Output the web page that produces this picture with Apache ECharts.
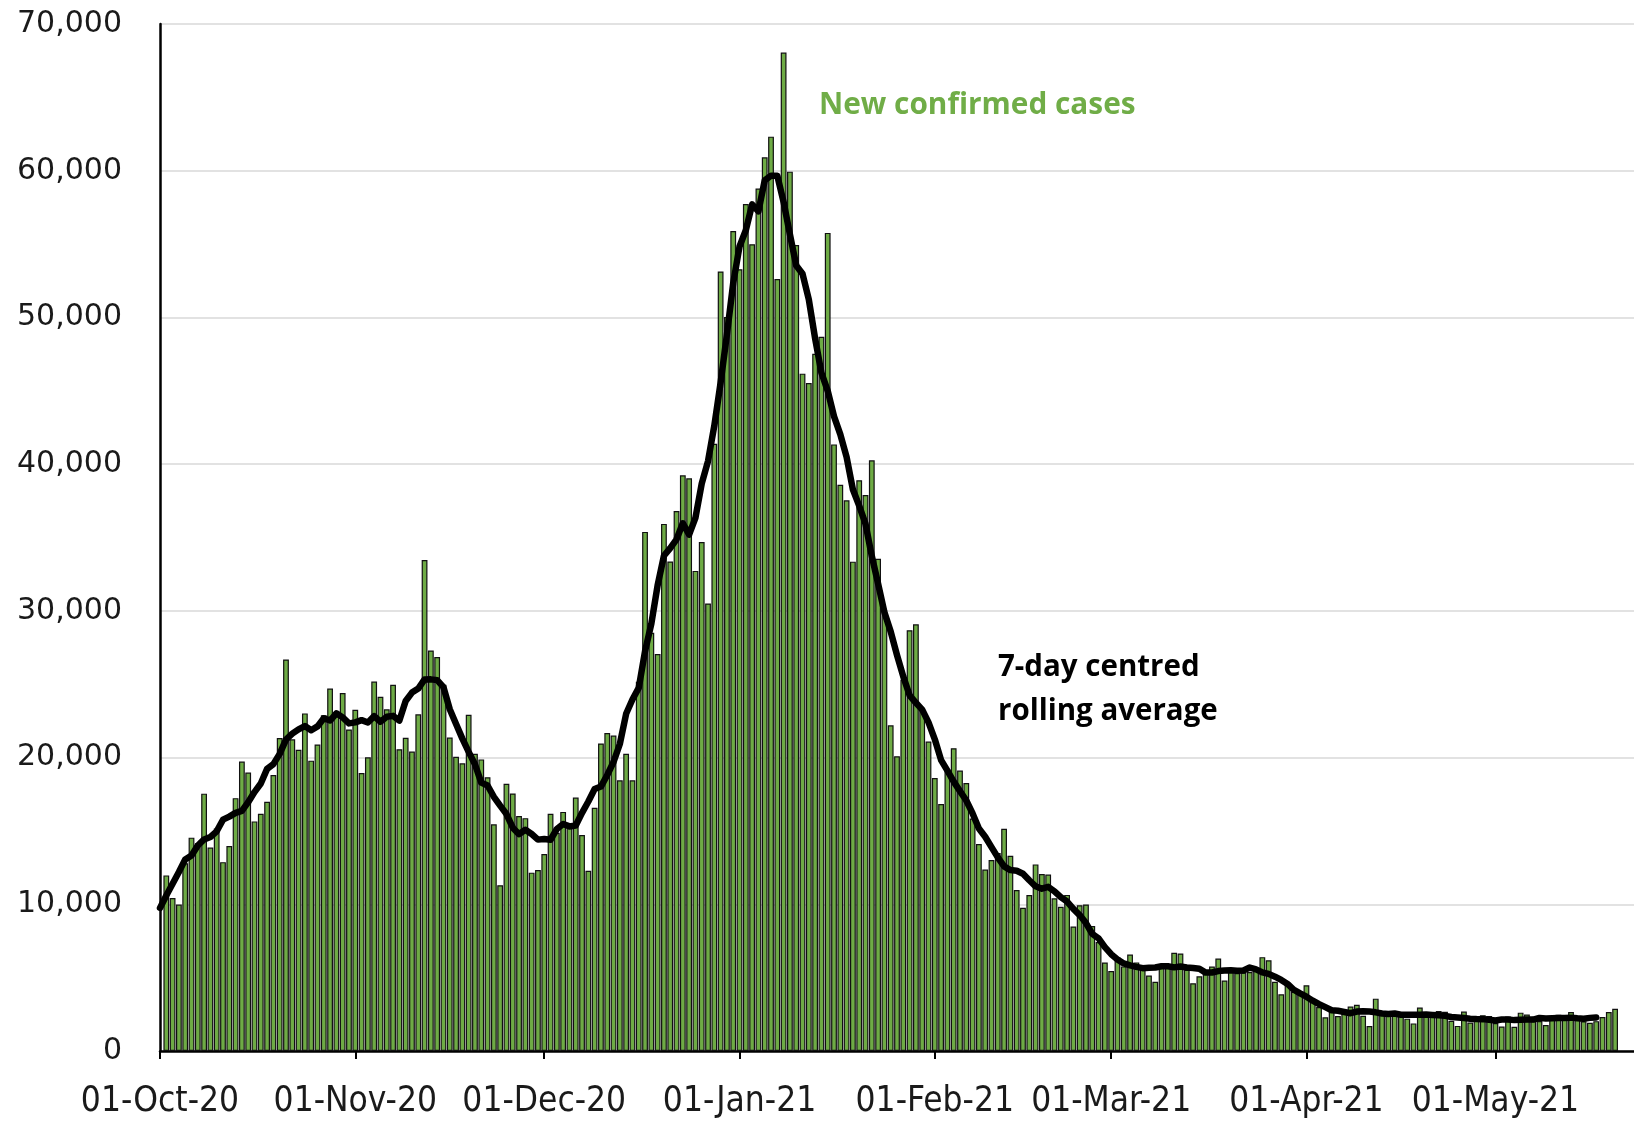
<!DOCTYPE html>
<html>
<head>
<meta charset="utf-8">
<title>New confirmed cases</title>
<script src="https://cdn.jsdelivr.net/npm/echarts@6/dist/echarts.min.js"></script>
<style>
  html, body { margin: 0; padding: 0; background: #fff; }
  #chart { width: 1634px; height: 1121px; }
</style>
</head>
<body>
<div id="chart"></div>
<script>
// axis starts at 01-Oct-20, bars start the day after
const axisStartDate = '2020-10-01'
const firstBarDate = '2020-10-02'
const axisDays = 234

// new confirmed cases per day
const cases = [
  11970, 10430, 9980, 12800, 14542, 14162, 17540, 13864, 15166, 12872,
  13972, 17234, 19724, 18980, 15650, 16171, 16982, 18804, 21331, 26688,
  21242, 20530, 23012, 19790, 20890, 22885, 24701, 23065, 24405, 21915,
  23254, 18950, 20018, 25177, 24141, 23287, 24957, 20572, 21350, 20412,
  22950, 33470, 27301, 26860, 24962, 21363, 20051, 19609, 22915, 20252,
  19875, 18662, 15450, 11299, 18213, 17555, 16022, 15871, 12155, 12330,
  13430, 16170, 14879, 16298, 15539, 17272, 14718, 12282, 16578, 20964,
  21672, 21502, 18447, 20263, 18450, 25161, 35383, 28507, 27052, 35928,
  33364, 36804, 39237, 39036, 32725, 34693, 30501, 41385, 53135, 50023,
  55892, 53285, 57725, 54990, 58784, 60916, 62322, 52618, 68053, 59937,
  54940, 46169, 45533, 47525, 48682, 55761, 41346, 38598, 37535, 33355,
  38905, 37892, 40261, 33552, 30004, 22195, 20089, 25308, 28680, 29079,
  23275, 21088, 18607, 16840, 19202, 20634, 19114, 18262, 15845, 14104,
  12364, 13013, 13494, 15144, 13308, 10972, 9765, 10625, 12718, 12057,
  12027, 10406, 9834, 10641, 8489, 9938, 9985, 8523, 7434, 6035,
  5455, 6391, 5766, 6573, 6040, 5530, 5140, 4712, 5766, 5926,
  6700, 6650, 5534, 4618, 5089, 5294, 5758, 6303, 4802, 5587,
  5312, 5342, 5379, 5605, 6397, 6187, 4715, 3862, 4654, 4040,
  4052, 4479, 3402, 3000, 2297, 2762, 2379, 2600, 3030, 3150,
  2400, 1700, 3568, 2472, 2491, 2672, 2596, 2206, 1882, 2963,
  2524, 2396, 2729, 2678, 2061, 1712, 2685, 1946, 2166, 2445,
  2381, 1907, 1671, 2357, 1649, 2613, 2490, 2047, 2047, 1770,
  2357, 2474, 2284, 2657, 2193, 2027, 1926, 2035, 2310, 2655,
  2880
]

// 7-day centred rolling average, from 01-Oct-20
const rollingAvg = [
  9750, 10600, 11400, 12200, 13061, 13331, 14008, 14421, 14588, 14973,
  15767, 15973, 16228, 16372, 16959, 17649, 18235, 19229, 19553, 20250,
  21227, 21628, 21926, 22148, 21864, 22125, 22678, 22522, 23016, 22739,
  22330, 22398, 22551, 22392, 22826, 22443, 22786, 22842, 22524, 23857,
  24430, 24702, 25329, 25331, 25280, 24802, 23294, 22287, 21290, 20390,
  19545, 18295, 18095, 17329, 16725, 16153, 15224, 14778, 15082, 14790,
  14408, 14448, 14400, 15131, 15472, 15308, 15367, 16236, 17004, 17855,
  18023, 18815, 19697, 20923, 22983, 23959, 24752, 27249, 29121, 31743,
  33754, 34275, 34878, 35970, 35194, 36340, 38673, 40214, 42622, 45559,
  48849, 52348, 54833, 55945, 57702, 57234, 59344, 59660, 59653, 57851,
  55653, 53539, 52977, 51221, 48565, 46231, 44997, 43257, 42026, 40485,
  38270, 37157, 35929, 33738, 31843, 29900, 28584, 26987, 25519, 24245,
  23732, 23268, 22396, 21246, 19823, 19107, 18358, 17714, 17075, 16191,
  15171, 14604, 13896, 13200, 12580, 12332, 12289, 12084, 11639, 11224,
  11062, 11187, 10882, 10485, 10189, 9688, 9263, 8721, 7980, 7680,
  7084, 6597, 6242, 5970, 5842, 5736, 5647, 5670, 5688, 5775,
  5775, 5701, 5755, 5687, 5663, 5607, 5343, 5350, 5449, 5485,
  5498, 5476, 5489, 5687, 5562, 5355, 5257, 5066, 4844, 4570,
  4172, 3927, 3703, 3433, 3196, 2988, 2781, 2745, 2660, 2574,
  2690, 2703, 2687, 2636, 2557, 2529, 2555, 2469, 2476, 2463,
  2471, 2483, 2462, 2438, 2398, 2315, 2282, 2242, 2199, 2177,
  2172, 2125, 2082, 2146, 2153, 2105, 2125, 2139, 2139, 2257,
  2210, 2234, 2255, 2252, 2274, 2228, 2205, 2258, 2289
]

// x axis ticks
const tickDates = ['2020-10-01', '2020-11-01', '2020-12-01', '2021-01-01', '2021-02-01', '2021-03-01', '2021-04-01', '2021-05-01']
const tickLabels = ['01-Oct-20', '01-Nov-20', '01-Dec-20', '01-Jan-21', '01-Feb-21', '01-Mar-21', '01-Apr-21', '01-May-21']

const DAY = 86400000
const origin = Date.parse(axisStartDate)
const dayOf = (s) => Math.round((Date.parse(s) - origin) / DAY)

const firstBar = dayOf(firstBarDate)
const barData = cases.map((v, i) => [firstBar + i, v])
const lineData = rollingAvg.map((v, i) => [i, v])
const tickDays = tickDates.map(dayOf)

const chart = echarts.init(document.getElementById('chart'), null, { renderer: 'canvas' })

const option = {
  animation: false,
  backgroundColor: '#fff',
  grid: {
    left: 160,
    right: 0,
    top: 24,
    bottom: 70,
  },
  xAxis: {
    type: 'value',
    min: 0,
    max: axisDays,
    splitLine: { show: false },
    axisLine: {
      show: true,
      onZero: false,
      lineStyle: { color: '#000', width: 2.5 },
    },
    axisTick: {
      show: true,
      customValues: tickDays,
      length: 8,
      lineStyle: { color: '#000', width: 2 },
    },
    axisLabel: {
      customValues: tickDays,
      margin: 33,
      color: '#1a1a1a',
      fontFamily: '"Liberation Sans Narrow", "DejaVu Sans Condensed", sans-serif',
      fontSize: 35,
      formatter: (v) => tickLabels[tickDays.indexOf(Math.round(v))] || '',
    },
  },
  yAxis: {
    type: 'value',
    min: 0,
    max: 70000,
    interval: 10000,
    axisLine: {
      show: true,
      lineStyle: { color: '#000', width: 2.5 },
    },
    axisTick: { show: false },
    axisLabel: {
      margin: 38,
      color: '#1a1a1a',
      fontFamily: '"DejaVu Sans", sans-serif',
      fontSize: 30,
      formatter: (v) => v.toLocaleString('en-US'),
    },
    splitLine: {
      lineStyle: { color: '#d9d9d9', width: 1.5 },
    },
  },
  graphic: [
    {
      type: 'text',
      left: 819,
      top: 91,
      style: {
        text: 'New confirmed cases',
        fill: '#70ad47',
        font: 'bold 29.8px "Open Sans", sans-serif',
      },
    },
    {
      type: 'text',
      left: 998,
      top: 646,
      style: {
        text: '7-day centred\nrolling average',
        fill: '#000',
        font: 'bold 29.5px "Open Sans", sans-serif',
        lineHeight: 44,
      },
    },
  ],
  series: [
    {
      name: 'New confirmed cases',
      type: 'bar',
      data: barData,
      barWidth: 5.8,
      itemStyle: {
        color: '#6eab45',
        borderColor: '#111',
        borderWidth: 1.2,
      },
    },
    {
      name: '7-day centred rolling average',
      type: 'line',
      data: lineData,
      showSymbol: false,
      z: 5,
      lineStyle: { color: '#000', width: 6.5, join: 'round', cap: 'round' },
    },
  ],
}

chart.setOption(option)
</script>
</body>
</html>
